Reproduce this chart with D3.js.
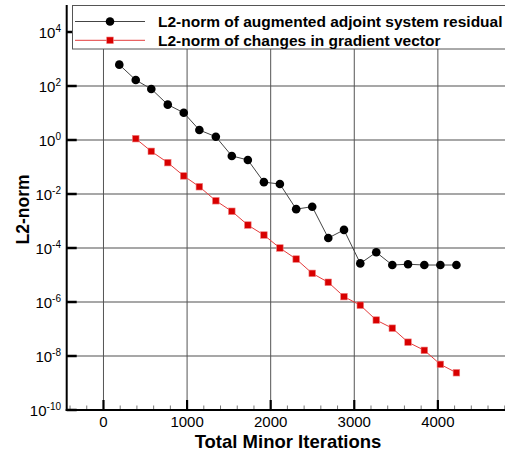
<!DOCTYPE html>
<html><head><meta charset="utf-8">
<script src="https://cdn.jsdelivr.net/npm/d3@7"></script>
<style>body{margin:0;background:#fff}svg{display:block}text{font-family:"Liberation Sans",Arial,Helvetica,sans-serif}</style>
</head><body><svg id="c" width="505" height="460"></svg>
<script>
const iterations = [189,386,572,769,960,1147,1344,1535,1727,1919,2110,2305,2497,2689,2877,3072,3263,3455,3643,3838,4030,4222];
const adjointResidual = [617,166,77.6,20.4,10.2,2.34,1.32,0.257,0.182,0.0275,0.0234,2.75e-3,3.39e-3,2.34e-4,4.68e-4,2.69e-5,6.92e-5,2.34e-5,2.51e-5,2.34e-5,2.34e-5,2.34e-5];
const gradientIterations = iterations.slice(1);
const gradientChange = [1.12,0.38,0.145,0.0468,0.0186,5.62e-3,2.29e-3,7.08e-4,3.02e-4,1.0e-4,3.89e-5,1.15e-5,5.37e-6,1.58e-6,7.59e-7,2.14e-7,1.07e-7,3.24e-8,1.62e-8,4.9e-9,2.4e-9];
const xTicks = [0,1000,2000,3000,4000];
const yExponents = [4,2,0,-2,-4,-6,-8,-10];
const seriesNames = ["L2-norm of augmented adjoint system residual","L2-norm of changes in gradient vector"];

const svg = d3.select("#c");
const x = d3.scaleLinear().domain([-440,4870]).range([66.7,510.6]);
const y = d3.scaleLog().domain([1e-10,1e5]).range([410,5]);
const L = 66.7, B = 410;

// grid
svg.append("g").selectAll("line").data(yExponents.filter(e=>e>-10)).join("line")
  .attr("x1",L).attr("x2",505).attr("y1",d=>y(Math.pow(10,d))).attr("y2",d=>y(Math.pow(10,d)))
  .attr("stroke","#8a8a8a").attr("stroke-width",1.3);
svg.append("g").selectAll("line").data(xTicks).join("line")
  .attr("x1",d=>x(d)).attr("x2",d=>x(d)).attr("y1",5).attr("y2",B)
  .attr("stroke","#555").attr("stroke-width",1);

// minor x ticks
const minor = d3.range(-400,4801,200).filter(v=>v%1000!==0);
svg.append("g").selectAll("line").data(minor).join("line")
  .attr("x1",d=>x(d)).attr("x2",d=>x(d)).attr("y1",B).attr("y2",B-4.5)
  .attr("stroke","#777").attr("stroke-width",1);
// major x ticks
svg.append("g").selectAll("line").data(xTicks).join("line")
  .attr("x1",d=>x(d)).attr("x2",d=>x(d)).attr("y1",B).attr("y2",B-10)
  .attr("stroke","#000").attr("stroke-width",2.2);
// major y ticks
svg.append("g").selectAll("line").data(yExponents).join("line")
  .attr("x1",L).attr("x2",L+10).attr("y1",d=>y(Math.pow(10,d))).attr("y2",d=>y(Math.pow(10,d)))
  .attr("stroke","#000").attr("stroke-width",2.5);

// axes lines
svg.append("line").attr("x1",L).attr("x2",L).attr("y1",5).attr("y2",B+1).attr("stroke","#000").attr("stroke-width",2);
svg.append("line").attr("x1",L-1).attr("x2",505).attr("y1",B).attr("y2",B).attr("stroke","#000").attr("stroke-width",2);

// x tick labels
svg.append("g").selectAll("text").data(xTicks).join("text")
  .attr("x",d=>x(d)).attr("y",427).attr("text-anchor","middle").attr("font-size",15).text(d=>d);
// y tick labels
const yl = svg.append("g").selectAll("text").data(yExponents).join("text")
  .attr("x",61).attr("y",d=>y(Math.pow(10,d))+5.5).attr("text-anchor","end").attr("font-size",15);
yl.append("tspan").text("10");
yl.append("tspan").attr("font-size",10).attr("dy",-6).text(d=>d);

// titles
svg.append("text").attr("x",288).attr("y",448).attr("text-anchor","middle").attr("font-size",18.5).attr("font-weight","bold").text("Total Minor Iterations");
svg.append("text").attr("transform","translate(29,209.5) rotate(-90)").attr("text-anchor","middle").attr("font-size",17.5).attr("font-weight","bold").text("L2-norm");

// series
const line = d3.line().x(d=>x(d[0])).y(d=>y(d[1]));
const blackData = iterations.map((v,i)=>[v,adjointResidual[i]]);
const redData = gradientIterations.map((v,i)=>[v,gradientChange[i]]);
svg.append("path").datum(blackData).attr("d",line).attr("fill","none").attr("stroke","#444").attr("stroke-width",1);
svg.append("path").datum(redData).attr("d",line).attr("fill","none").attr("stroke","#e43c3c").attr("stroke-width",1);
svg.append("g").selectAll("circle").data(blackData).join("circle")
  .attr("cx",d=>x(d[0])).attr("cy",d=>y(d[1])).attr("r",4.3).attr("fill","#000");
svg.append("g").selectAll("rect").data(redData).join("rect")
  .attr("x",d=>x(d[0])-3.3).attr("y",d=>y(d[1])-3.3).attr("width",6.6).attr("height",6.6)
  .attr("fill","#d80000").attr("stroke","#f08080").attr("stroke-width",0.6);

// legend
const lg = svg.append("g");
lg.append("rect").attr("x",72.5).attr("y",5.5).attr("width",460).attr("height",43.5).attr("fill","#fff").attr("stroke","#555").attr("stroke-width",1);
const rows = [21.5,40.3];
lg.append("line").attr("x1",75).attr("x2",145).attr("y1",rows[0]).attr("y2",rows[0]).attr("stroke","#444").attr("stroke-width",1);
lg.append("circle").attr("cx",110).attr("cy",rows[0]).attr("r",4.3).attr("fill","#000");
lg.append("line").attr("x1",75).attr("x2",145).attr("y1",rows[1]).attr("y2",rows[1]).attr("stroke","#e43c3c").attr("stroke-width",1);
lg.append("rect").attr("x",110-3.3).attr("y",rows[1]-3.3).attr("width",6.6).attr("height",6.6).attr("fill","#d80000").attr("stroke","#f08080").attr("stroke-width",0.6);
lg.selectAll("text").data(seriesNames).join("text")
  .attr("x",158).attr("y",(d,i)=>rows[i]+5.3).attr("font-size",15.5).attr("font-weight","bold").text(d=>d);
</script></body></html>
